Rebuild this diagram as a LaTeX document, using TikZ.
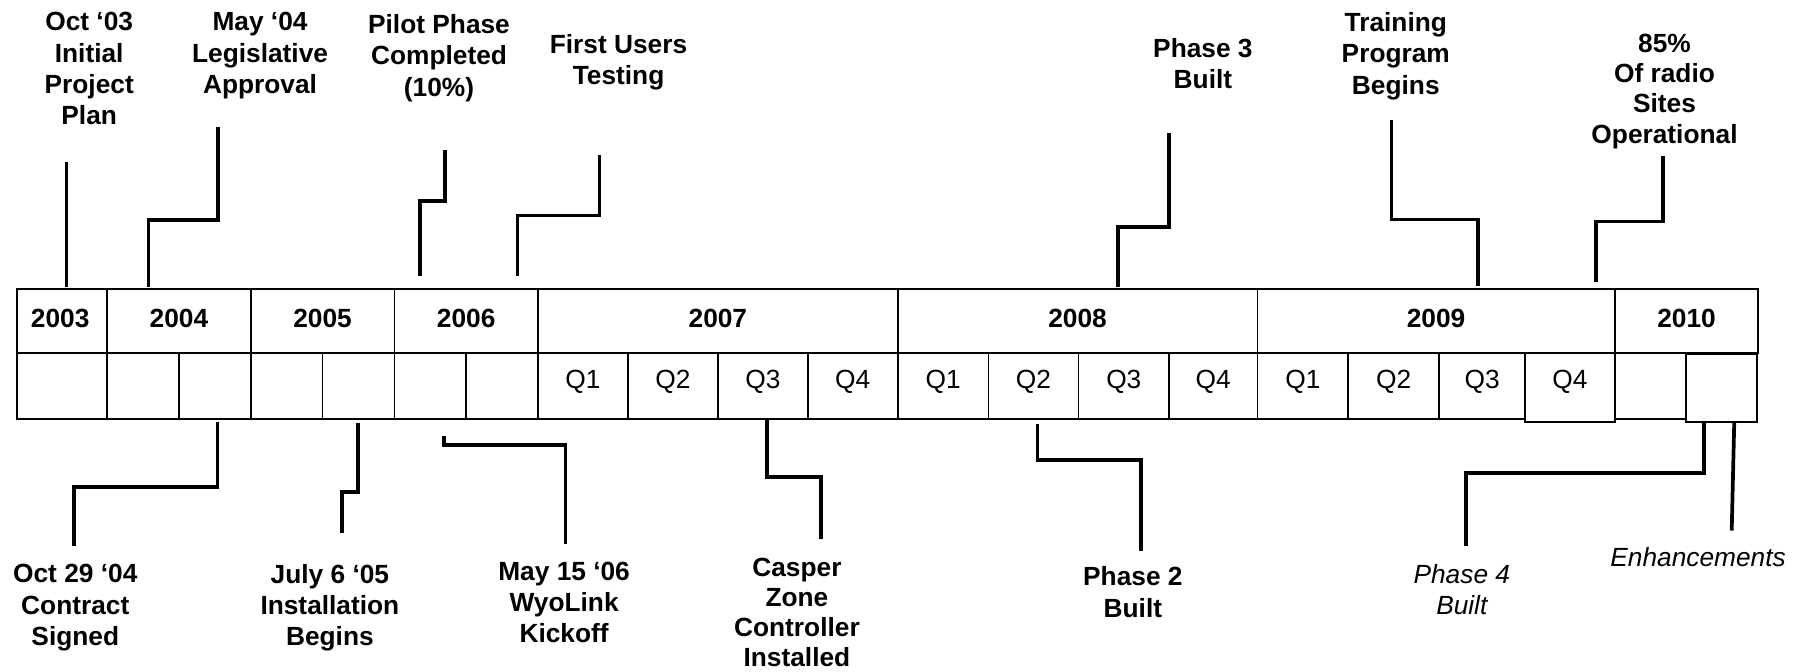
\documentclass[tikz,border=0pt]{standalone}
\usepackage{fontspec}
\setmainfont{Liberation Sans}
\newcommand\tlfs{\fontsize{11.35}{13.45}\selectfont}
\newcommand\tlcell[5]{%
  \node[cellbox, minimum width={(#4-(#2))*0.5pt}, minimum height={(#5-(#3))*0.5pt}] (#1) at ({(#2+#4)/2},{(#3+#5)/2}) {};}
\newcommand\tlleader[6]{%
  \coordinate (#1s) at (#2,#3);
  \coordinate (#1h) at (#5,#4);
  \coordinate (#1t) at (#5,#6);
  \draw[leader] (#1s) |- (#1h) -- (#1t);}
\begin{document}
\begin{tikzpicture}[x=0.5pt,y=-0.5pt,
  cellbox/.style={draw, line width=0.75pt, inner sep=0pt, outer sep=0pt},
  yeartext/.style={font=\bfseries\tlfs, anchor=base, inner sep=0pt},
  qtext/.style={font=\tlfs, anchor=base, inner sep=0pt},
  lbl/.style={font=\bfseries\tlfs, align=center, anchor=north, inner sep=0pt},
  ilbl/.style={font=\itshape\tlfs, align=center, anchor=north, inner sep=0pt},
  leader/.style={line width=1.6pt}]
\useasboundingbox (0,0) rectangle (1560,579.3);
\fill[white] (0,0) rectangle (1560,579.3);

% year row
\tlcell{y03}{14.5}{249.5}{92.5}{305}
\tlcell{y04}{92.5}{249.5}{216.5}{305}
\tlcell{y05}{216.5}{249.5}{340.5}{305}
\tlcell{y06}{340.5}{249.5}{464.5}{305}
\tlcell{y07}{464.5}{249.5}{775}{305}
\tlcell{y08}{775}{249.5}{1085.5}{305}
\tlcell{y09}{1085.5}{249.5}{1394}{305}
\tlcell{y10}{1394}{249.5}{1518}{305}
\node[yeartext] (t03) at (52,282.6) {2003};
\node[yeartext] (t04) at (154.5,282.6) {2004};
\node[yeartext] (t05) at (278.5,282.6) {2005};
\node[yeartext] (t06) at (402.5,282.6) {2006};
\node[yeartext] (t07) at (619.75,282.6) {2007};
\node[yeartext] (t08) at (930.25,282.6) {2008};
\node[yeartext] (t09) at (1239.75,282.6) {2009};
\node[yeartext] (t10) at (1456,282.6) {2010};

% quarter row
\tlcell{q03}{14.5}{305}{92.5}{362}
\tlcell{q04a}{92.5}{305}{154.5}{362}
\tlcell{q04b}{154.5}{305}{216.5}{362}
\tlcell{q05a}{216.5}{305}{278.5}{362}
\tlcell{q05b}{278.5}{305}{340.5}{362}
\tlcell{q06a}{340.5}{305}{402.5}{362}
\tlcell{q06b}{402.5}{305}{464.5}{362}
\tlcell{q07a}{464.5}{305}{542.1}{362}
\tlcell{q07b}{542.1}{305}{619.8}{362}
\tlcell{q07c}{619.8}{305}{697.4}{362}
\tlcell{q07d}{697.4}{305}{775}{362}
\tlcell{q08a}{775}{305}{853.4}{362}
\tlcell{q08b}{853.4}{305}{931}{362}
\tlcell{q08c}{931}{305}{1009.3}{362}
\tlcell{q08d}{1009.3}{305}{1085.5}{362}
\tlcell{q09a}{1085.5}{305}{1164}{362}
\tlcell{q09b}{1164}{305}{1242.2}{362}
\tlcell{q09c}{1242.2}{305}{1316.7}{362}
\tlcell{q09d}{1316.7}{305}{1394}{364}
\tlcell{q10a}{1394}{305}{1455.4}{362}
\tlcell{q10b}{1455.4}{305.5}{1517}{364.5}
\foreach \n/\cx/\q in {a7/503.3/Q1, b7/581/Q2, c7/658.6/Q3, d7/736.2/Q4,
  a8/814.2/Q1, b8/892.2/Q2, c8/970.2/Q3, d8/1047.4/Q4,
  a9/1124.8/Q1, b9/1203.1/Q2, c9/1279.5/Q3, d9/1355.4/Q4}
  \node[qtext] (qt\n) at (\cx,335.4) {\q};

% leaders above
\coordinate (las) at (57.5,248);
\coordinate (lat) at (57.5,139.6);
\draw[leader] (las) -- (lat);
\tlleader{lb}{128.2}{248}{190}{188.3}{110}
\tlleader{lc}{362.4}{238}{173.6}{384}{129.3}
\tlleader{ld}{446.7}{238}{186}{517.5}{134}
\tlleader{le}{965}{247.5}{195.8}{1009.3}{114.5}
\tlleader{lf}{1276}{246.8}{189.5}{1201.4}{103.4}
\tlleader{lg}{1377.6}{243.8}{191.3}{1435.4}{134.8}
% leaders below
\tlleader{lh}{187.7}{364}{420.4}{63.8}{471}
\tlleader{li}{309}{365}{424.8}{295}{460}
\tlleader{lj}{383.3}{376.8}{384.2}{488.3}{470}
\tlleader{lk}{662.4}{362}{412}{708.6}{465}
\tlleader{ll}{895.6}{365.7}{397}{984.9}{475.8}
\tlleader{lm}{1471}{363.9}{408.2}{1265.3}{471}
\coordinate (lns) at (1497.2,364);
\coordinate (lnt) at (1495,458);
\draw[leader] (lns) -- (lnt);

% labels above
\node[lbl] (oct03) at (77,10.5) {Oct ‘03\\Initial\\Project\\Plan};
\node[lbl] (may04) at (224.5,10.5) {May ‘04\\Legislative\\Approval};
\node[lbl] (pilot) at (379,12.3) {Pilot Phase\\Completed\\(10\%)};
\node[lbl] (first) at (534,29) {First Users\\Testing};
\node[lbl] (ph3) at (1038.5,32.6) {Phase 3\\Built};
\node[lbl] (train) at (1205,10.5) {Training\\Program\\Begins};
\node[lbl, font=\bfseries\fontsize{11.35}{13.05}\selectfont] (p85) at (1437,29) {85\%\\Of radio\\Sites\\Operational};
% labels below
\node[lbl] (oct29) at (65,487) {Oct 29 ‘04\\Contract\\Signed};
\node[lbl] (july) at (284.8,487) {July 6 ‘05\\Installation\\Begins};
\node[lbl] (may15) at (487,485) {May 15 ‘06\\WyoLink\\Kickoff};
\node[lbl, font=\bfseries\fontsize{11.35}{13}\selectfont] (casper) at (688,481.5) {Casper\\Zone\\Controller\\Installed};
\node[lbl] (ph2) at (978,489) {Phase 2\\Built};
\node[ilbl] (ph4) at (1262,487) {Phase 4\\Built};
\node[ilbl] (enh) at (1466,472) {Enhancements};
\end{tikzpicture}
\end{document}
